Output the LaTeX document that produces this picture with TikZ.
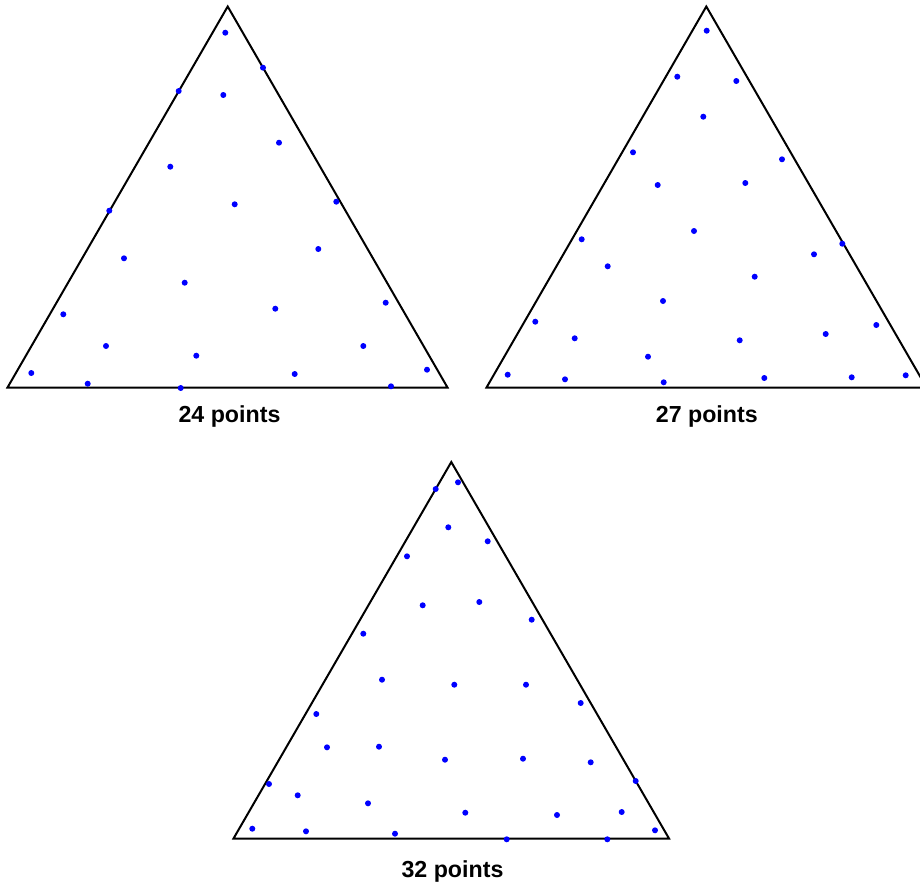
\documentclass[tikz,border=0pt]{standalone}
\usepackage{fontspec}
\setmainfont{Liberation Sans}
\begin{document}
\begin{tikzpicture}[x=1pt,y=-1pt,
  tri/.style={draw=black,line width=2pt,line join=miter},
  pt/.style={fill=blue},
  lbl/.style={anchor=base,font=\fontsize{23.2}{28}\selectfont\bfseries,inner sep=0pt}]
\useasboundingbox (0,0) rectangle (920,889);
\clip (0,0) rectangle (920,889);
% triangle 1
\draw[tri] (227.7,6.5) -- (7.5,387.5) -- (447.5,387.5) -- cycle;
\foreach \x/\y in {225.3/32.7,263/67.7,178.7/91,223.3/95,279/142.7,170.3/166.7,
  109.3/210.7,234.7/204.3,336.3/201.7,124/258.3,318.3/249,184.7/282.7,63.3/314.3,
  275.3/308.7,385.7/302.7,106/346,196.3/355.7,363.3/346,31.3/373,87.7/383.7,
  180.7/388,294.7/374,427/369.7,391/386.3}
  \fill[pt] (\x,\y) circle (3pt);
\node[lbl] (l1) at (229.5,422.7) {24 points};
% triangle 2
\draw[tri] (706.3,6.5) -- (486.5,387.5) -- (926.5,387.5) -- cycle;
\foreach \x/\y in {706.7/30.7,677.3/76.7,736.3/81,703.3/116.7,633/152.3,782/159.3,
  657.7/185,745.3/183,581.7/239.3,694/231,842.3/243.7,814/254.3,607.7/266.3,
  754.7/276.7,663/301,535.3/321.7,574.7/338.3,739.7/340.3,825.7/334,876.3/325,
  648/356.7,507.7/374.7,565/379.3,663.7/382.3,764.3/378,851.7/377.3,905.7/375.3}
  \fill[pt] (\x,\y) circle (3pt);
\node[lbl] (l2) at (706.8,422.7) {27 points};
% triangle 3
\draw[tri] (451.3,462) -- (233.5,838.5) -- (669,838.5) -- cycle;
\foreach \x/\y in {458/482.3,435.7/489,448.3/527.3,487.7/541.3,407/556.3,422.7/605.3,
  479.3/602,531.7/619.7,363.3/633.7,382/679.7,454.3/684.7,526/684.7,316.3/714,
  580.7/703,327/747.3,379/746.7,445/759.7,523/758.7,590.7/762.3,269/784,635.7/781,
  297.7/795.3,368/803.3,465.3/812.7,557/815,621.7/812,252.3/828.7,306/831.3,
  395/833.7,506.7/839.3,607.3/839.3,655/830.3}
  \fill[pt] (\x,\y) circle (3pt);
\node[lbl] (l3) at (452.5,877.7) {32 points};
\end{tikzpicture}
\end{document}
